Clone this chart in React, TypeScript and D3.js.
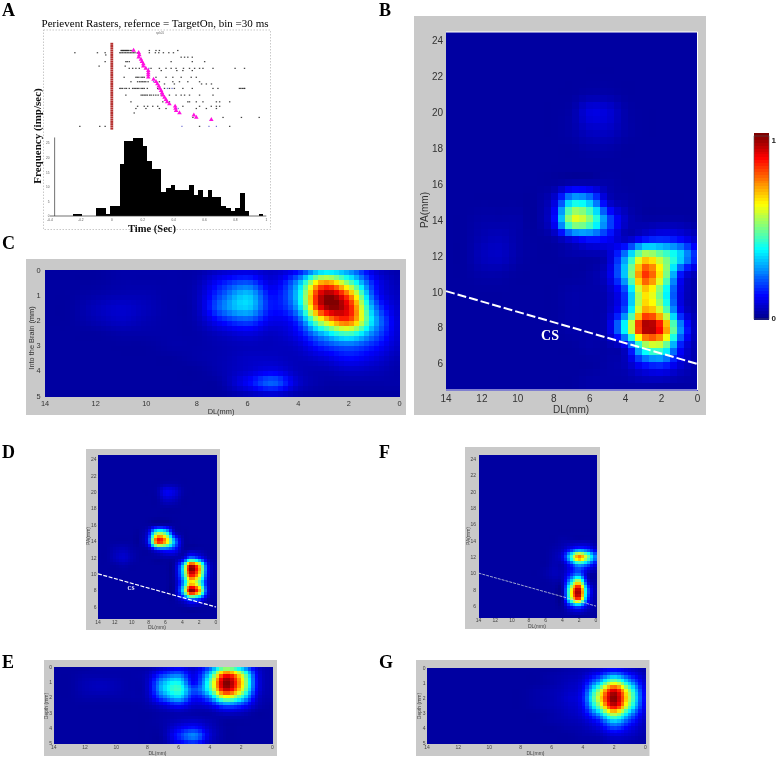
import React, { useRef, useEffect } from "react";
import * as d3 from "d3";

// recording sites of the maps
const dlSites = [14, 13, 12, 11, 10, 9, 8, 7, 6, 5, 4, 3, 2, 1, 0];
const paSites = [25, 24, 23, 22, 21, 20, 19, 18, 17, 16, 15, 14, 13, 12, 11, 10, 9, 8, 7, 6, 5, 4];
const depthSites = [0, 0.5, 1, 1.5, 2, 2.5, 3, 3.5, 4, 4.5, 5];

const dlTicks = [14, 12, 10, 8, 6, 4, 2, 0];
const paTicks = [24, 22, 20, 18, 16, 14, 12, 10, 8, 6];
const depthTicks = [0, 1, 2, 3, 4, 5];

// normalised rate in percent, one row per PA / depth site, one column per DL site
const mapB = [
  [2, 2, 2, 2, 2, 2, 2, 2, 2, 2, 2, 2, 2, 2, 2],
  [2, 2, 2, 2, 2, 2, 2, 2, 2, 2, 2, 2, 2, 2, 2],
  [2, 2, 2, 2, 2, 2, 2, 2, 2, 2, 2, 2, 2, 2, 2],
  [2, 2, 2, 2, 2, 2, 2, 2, 2, 2, 2, 2, 2, 2, 2],
  [2, 2, 2, 2, 2, 2, 2, 2, 3, 3, 2, 2, 2, 2, 2],
  [2, 2, 2, 2, 2, 2, 2, 3, 9, 8, 3, 2, 2, 2, 2],
  [2, 2, 2, 2, 2, 2, 2, 3, 6, 6, 3, 2, 2, 2, 2],
  [2, 2, 2, 2, 2, 2, 2, 2, 3, 3, 2, 2, 2, 2, 2],
  [2, 2, 2, 2, 2, 2, 2, 2, 2, 2, 2, 2, 2, 2, 2],
  [2, 2, 2, 2, 2, 2, 2, 4, 4, 3, 2, 2, 2, 2, 2],
  [2, 2, 2, 2, 2, 2, 8, 35, 30, 7, 3, 2, 2, 2, 2],
  [2, 2, 3, 3, 3, 2, 12, 57, 50, 22, 6, 3, 3, 3, 2],
  [2, 2, 4, 5, 3, 2, 3, 10, 15, 12, 5, 12, 15, 12, 6],
  [2, 2, 5, 6, 3, 2, 2, 3, 3, 6, 28, 60, 50, 35, 15],
  [2, 2, 3, 3, 2, 2, 2, 2, 3, 8, 35, 82, 60, 15, 4],
  [2, 2, 2, 2, 2, 2, 2, 3, 3, 5, 20, 65, 45, 10, 3],
  [2, 2, 2, 2, 2, 2, 2, 3, 3, 5, 22, 70, 55, 12, 3],
  [2, 2, 2, 2, 2, 2, 2, 3, 3, 7, 42, 96, 84, 28, 3],
  [2, 2, 2, 2, 2, 2, 2, 2, 3, 3, 10, 48, 52, 15, 3],
  [2, 2, 2, 2, 2, 2, 2, 2, 2, 3, 5, 15, 18, 8, 3],
  [2, 2, 2, 2, 2, 2, 2, 2, 3, 3, 3, 4, 4, 3, 3],
  [2, 2, 2, 2, 2, 2, 2, 2, 2, 2, 2, 2, 2, 2, 2],
];

const mapC = [
  [2, 2, 2, 3, 3, 3, 3, 6, 8, 6, 12, 30, 25, 8, 3],
  [2, 2, 2, 3, 3, 3, 4, 14, 20, 9, 28, 72, 48, 14, 4],
  [2, 2, 3, 4, 4, 3, 5, 20, 32, 13, 34, 96, 76, 18, 5],
  [2, 2, 5, 7, 5, 3, 5, 24, 33, 14, 30, 94, 88, 26, 6],
  [2, 2, 4, 6, 4, 3, 4, 14, 20, 10, 18, 62, 80, 32, 7],
  [2, 2, 2, 3, 3, 3, 3, 6, 9, 6, 12, 32, 45, 24, 7],
  [2, 2, 2, 2, 2, 3, 3, 4, 5, 5, 7, 17, 22, 15, 6],
  [2, 2, 2, 2, 2, 2, 3, 4, 6, 6, 5, 8, 13, 9, 4],
  [2, 2, 2, 2, 2, 2, 2, 4, 7, 10, 5, 4, 6, 5, 3],
  [2, 2, 2, 2, 2, 2, 2, 3, 12, 22, 7, 3, 3, 3, 3],
  [2, 2, 2, 2, 2, 2, 2, 2, 4, 6, 3, 2, 2, 2, 2],
];

const mapD = [
  [2, 2, 2, 2, 2, 2, 2, 2, 2, 2, 2, 2, 2, 2, 2],
  [2, 2, 2, 2, 2, 2, 2, 2, 2, 2, 2, 2, 2, 2, 2],
  [2, 2, 2, 2, 2, 2, 2, 2, 2, 2, 2, 2, 2, 2, 2],
  [2, 2, 2, 2, 2, 2, 2, 2, 2, 2, 2, 2, 2, 2, 2],
  [2, 2, 2, 2, 2, 2, 2, 2, 3, 3, 2, 2, 2, 2, 2],
  [2, 2, 2, 2, 2, 2, 2, 3, 11, 9, 3, 2, 2, 2, 2],
  [2, 2, 2, 2, 2, 2, 2, 2, 6, 5, 2, 2, 2, 2, 2],
  [2, 2, 2, 2, 2, 2, 2, 2, 2, 2, 2, 2, 2, 2, 2],
  [2, 2, 2, 2, 2, 2, 2, 2, 2, 2, 2, 2, 2, 2, 2],
  [2, 2, 2, 2, 2, 2, 2, 3, 3, 2, 2, 2, 2, 2, 2],
  [2, 2, 2, 2, 2, 2, 10, 52, 45, 8, 2, 2, 2, 2, 2],
  [2, 2, 2, 2, 2, 2, 15, 84, 72, 30, 4, 2, 2, 2, 2],
  [2, 2, 4, 5, 3, 2, 3, 14, 18, 14, 3, 3, 3, 2, 2],
  [2, 2, 5, 7, 4, 2, 2, 2, 3, 3, 6, 24, 16, 4, 2],
  [2, 2, 2, 3, 2, 2, 2, 2, 2, 3, 33, 96, 72, 14, 2],
  [2, 2, 2, 2, 2, 2, 2, 2, 2, 3, 32, 88, 68, 13, 2],
  [2, 2, 2, 2, 2, 2, 2, 2, 2, 2, 24, 64, 48, 9, 2],
  [2, 2, 2, 2, 2, 2, 2, 2, 2, 2, 34, 98, 74, 12, 2],
  [2, 2, 2, 2, 2, 2, 2, 2, 2, 2, 9, 24, 18, 4, 2],
  [2, 2, 2, 2, 2, 2, 2, 2, 2, 2, 2, 3, 3, 2, 2],
  [2, 2, 2, 2, 2, 2, 2, 2, 2, 2, 2, 2, 2, 2, 2],
  [2, 2, 2, 2, 2, 2, 2, 2, 2, 2, 2, 2, 2, 2, 2],
];

const mapE = [
  [2, 2, 2, 3, 3, 3, 3, 6, 10, 7, 20, 45, 30, 8, 3],
  [2, 2, 3, 3, 3, 3, 5, 18, 24, 10, 35, 85, 60, 12, 3],
  [2, 2, 4, 5, 4, 3, 6, 30, 38, 12, 45, 100, 68, 13, 3],
  [2, 2, 4, 5, 4, 3, 6, 32, 43, 20, 42, 92, 62, 12, 3],
  [2, 2, 3, 3, 3, 3, 5, 22, 33, 13, 25, 58, 40, 8, 3],
  [2, 2, 2, 2, 2, 2, 3, 8, 14, 7, 10, 22, 17, 5, 2],
  [2, 2, 2, 2, 2, 2, 2, 3, 4, 3, 3, 6, 5, 2, 2],
  [2, 2, 2, 2, 2, 2, 2, 3, 5, 6, 4, 2, 2, 2, 2],
  [2, 2, 2, 2, 2, 2, 2, 3, 10, 14, 6, 2, 2, 2, 2],
  [2, 2, 2, 2, 2, 2, 2, 3, 16, 26, 8, 2, 2, 2, 2],
  [2, 2, 2, 2, 2, 2, 2, 2, 10, 15, 5, 2, 2, 2, 2],
];

const mapF = [
  [2, 2, 2, 2, 2, 2, 2, 2, 2, 2, 2, 2, 2, 2, 2],
  [2, 2, 2, 2, 2, 2, 2, 2, 2, 2, 2, 2, 2, 2, 2],
  [2, 2, 2, 2, 2, 2, 2, 2, 2, 2, 2, 2, 2, 2, 2],
  [2, 2, 2, 2, 2, 2, 2, 2, 2, 2, 2, 2, 2, 2, 2],
  [2, 2, 2, 2, 2, 2, 2, 2, 2, 2, 2, 2, 2, 2, 2],
  [2, 2, 2, 2, 2, 2, 2, 2, 2, 2, 2, 2, 2, 2, 2],
  [2, 2, 2, 2, 2, 2, 2, 2, 2, 2, 2, 2, 2, 2, 2],
  [2, 2, 2, 2, 2, 2, 2, 2, 2, 2, 2, 2, 2, 2, 2],
  [2, 2, 2, 2, 2, 2, 2, 2, 2, 2, 2, 2, 2, 2, 2],
  [2, 2, 2, 2, 2, 2, 2, 2, 2, 2, 2, 2, 2, 2, 2],
  [2, 2, 2, 2, 2, 2, 2, 2, 2, 2, 2, 2, 2, 2, 2],
  [2, 2, 2, 2, 2, 2, 2, 2, 2, 2, 3, 3, 3, 3, 2],
  [2, 2, 2, 2, 2, 2, 2, 2, 2, 3, 5, 12, 18, 15, 6],
  [2, 2, 2, 2, 2, 2, 2, 2, 2, 4, 10, 42, 76, 52, 22],
  [2, 2, 2, 2, 2, 2, 2, 2, 2, 4, 4, 15, 28, 20, 8],
  [2, 2, 2, 2, 2, 2, 2, 2, 3, 5, 5, 15, 22, 5, 2],
  [2, 2, 2, 2, 2, 2, 2, 2, 2, 3, 5, 35, 60, 10, 2],
  [2, 2, 2, 2, 2, 2, 2, 2, 2, 2, 4, 60, 96, 25, 2],
  [2, 2, 2, 2, 2, 2, 2, 2, 2, 2, 3, 55, 86, 20, 2],
  [2, 2, 2, 2, 2, 2, 2, 2, 2, 2, 2, 15, 22, 8, 2],
  [2, 2, 2, 2, 2, 2, 2, 2, 2, 2, 2, 3, 3, 2, 2],
  [2, 2, 2, 2, 2, 2, 2, 2, 2, 2, 2, 2, 2, 2, 2],
];

const mapG = [
  [2, 2, 2, 2, 2, 2, 2, 2, 2, 3, 4, 6, 10, 6, 3],
  [2, 2, 2, 2, 2, 2, 2, 2, 3, 4, 6, 16, 30, 16, 5],
  [2, 2, 2, 2, 2, 2, 2, 2, 3, 5, 9, 32, 60, 32, 7],
  [2, 2, 2, 2, 2, 2, 2, 3, 4, 6, 12, 52, 92, 50, 9],
  [2, 2, 2, 2, 2, 2, 2, 3, 4, 7, 14, 60, 100, 55, 10],
  [2, 2, 2, 2, 2, 2, 2, 3, 4, 6, 12, 50, 92, 48, 9],
  [2, 2, 2, 2, 2, 2, 2, 2, 3, 5, 9, 30, 60, 30, 7],
  [2, 2, 2, 2, 2, 2, 2, 2, 3, 4, 6, 15, 34, 18, 5],
  [2, 2, 2, 2, 2, 2, 2, 2, 2, 3, 4, 8, 18, 10, 4],
  [2, 2, 2, 2, 2, 2, 2, 2, 2, 2, 3, 4, 8, 6, 3],
  [2, 2, 2, 2, 2, 2, 2, 2, 2, 2, 2, 2, 4, 3, 2],
];

// jet colour stops
const jetStops = [0, 0.125, 0.375, 0.625, 0.875, 1];
const jetColors = ["#00008f", "#0000ff", "#00ffff", "#ffff00", "#ff0000", "#800000"];

// central sulcus end points, [DL, PA]
const csLine = [[14, 10.05], [0, 6]];

// histogram of panel A, imp/sec for each 30 ms bin starting at -0.4 s
const binWidth = 0.03;
const histCounts = [
  0, 0, 0, 0, 0, 0.7, 0.7, 0, 0, 0, 2.6, 2.6, 0.7, 3.4, 3.4, 18, 25.8, 25.8, 26.8, 26.8, 24.2, 18.8, 16.2, 16.2,
  8.2, 9.8, 10.8, 9, 9, 9, 10.8, 7.2, 9, 6.5, 9, 6.4, 6.4, 3.5, 2.8, 1.8, 2.7, 8, 1.8, 0, 0, 0.8, 0,
];
const histXTicks = [-0.4, -0.2, 0, 0.2, 0.4, 0.6, 0.8, 1];
const histYTicks = [0, 5, 10, 15, 20, 25];

// raster of panel A: trial number and spike times in seconds
const spikeTrials = [
  [3, [0.06, 0.065, 0.07, 0.075, 0.08, 0.085, 0.09, 0.095, 0.1, 0.105, 0.11, 0.12, 0.13, 0.243, 0.286, 0.308, 0.427]],
  [4, [-0.239, -0.093, -0.043, 0.052, 0.06, 0.07, 0.08, 0.09, 0.1, 0.11, 0.12, 0.13, 0.14, 0.15, 0.165, 0.178, 0.243, 0.282, 0.304, 0.334, 0.369, 0.399]],
  [5, [-0.039]],
  [6, [0.449, 0.471, 0.492, 0.521]],
  [8, [-0.043, 0.091, 0.1, 0.113, 0.384, 0.521, 0.601]],
  [10, [-0.082, 0.087]],
  [11, [0.113, 0.135, 0.156, 0.178, 0.254, 0.308, 0.351, 0.384, 0.416, 0.464, 0.503, 0.536, 0.568, 0.59, 0.655, 0.798, 0.859]],
  [12, [0.32, 0.421, 0.46, 0.521]],
  [15, [0.08, 0.156, 0.165, 0.175, 0.19, 0.2, 0.21, 0.286, 0.351, 0.395, 0.449, 0.514, 0.547]],
  [17, [0.124, 0.167, 0.18, 0.19, 0.2, 0.21, 0.22, 0.235, 0.308, 0.395, 0.438, 0.492, 0.568]],
  [18, [0.341, 0.405, 0.581, 0.612, 0.645]],
  [20, [0.052, 0.06, 0.07, 0.085, 0.095, 0.113, 0.135, 0.145, 0.155, 0.165, 0.175, 0.19, 0.2, 0.21, 0.23, 0.297, 0.341, 0.373, 0.405, 0.46, 0.521, 0.655, 0.687, 0.826, 0.835, 0.845, 0.855, 0.86]],
  [23, [0.091, 0.19, 0.2, 0.21, 0.22, 0.23, 0.245, 0.255, 0.27, 0.285, 0.3, 0.32, 0.373, 0.416, 0.449, 0.471, 0.503, 0.568, 0.655]],
  [26, [0.124, 0.33, 0.373, 0.492, 0.503, 0.547, 0.59, 0.677, 0.698, 0.763]],
  [28, [0.167, 0.21, 0.232, 0.265, 0.297, 0.46, 0.568, 0.644, 0.677, 0.698]],
  [29, [0.156, 0.221, 0.308, 0.351, 0.416, 0.547, 0.612, 0.677]],
  [31, [0.145]],
  [33, [0.525, 0.72, 0.839, 0.954]],
  [37, [-0.207, -0.078, -0.043, 0.568, 0.763]],
];
const blueMarks = [[11, 0.24], [17, 0.27], [20, 0.36], [20, 0.39], [26, 0.36], [29, 0.43], [37, 0.454], [37, 0.629], [37, 0.677]];
const saccadeTrials = [3, 4, 5, 6, 7, 8, 9, 10, 11, 12, 13, 14, 15, 16, 17, 18, 19, 20, 21, 22, 23, 24, 25, 26, 27, 28, 29, 30, 31, 32, 33, 34];
const saccadeTimes = [0.141, 0.174, 0.178, 0.174, 0.189, 0.195, 0.204, 0.204, 0.22, 0.236, 0.236, 0.236, 0.236, 0.27, 0.286, 0.295, 0.304, 0.31, 0.319, 0.325, 0.33, 0.341, 0.35, 0.358, 0.373, 0.41, 0.412, 0.416, 0.438, 0.531, 0.547, 0.644];
const rasterTrials = d3.range(0, 39);

const serif = "'Liberation Serif', serif";
const sans = "'Liberation Sans', Arial, sans-serif";

const panels = [
  { map: mapB, rowSites: paSites, yTicks: paTicks, frame: [414, 16, 706, 415], plot: [446, 32, 697.5, 390], yDomain: [24.46, 4.55], nx: 36, ny: 51, yLabel: "PA(mm)", font: 10, color: "#333", xl: [571, 413], yl: [428, 210], tickY: 401.5, tickX: 443, cs: [550, 340, 14], csWidth: 2, csDash: "9,3", white: true },
  { map: mapC, rowSites: depthSites, yTicks: depthTicks, frame: [26, 259, 406, 415], plot: [45, 270, 399.5, 396.5], yDomain: [0, 5.02], nx: 70, ny: 25, yLabel: "Into the Brain (mm)", font: 7.4, color: "#333", xl: [221, 413.5], yl: [34, 338], tickY: 405.5, tickX: 40.5, white: false },
  { map: mapD, rowSites: paSites, yTicks: paTicks, frame: [86, 449, 220, 630], plot: [98, 454.5, 216, 618.5], yDomain: [24.6, 4.6], nx: 40, ny: 55, yLabel: "PA(mm)", font: 5, color: "#444", xl: [157, 628.5], yl: [90, 536], tickY: 623.5, tickX: 96.5, cs: [131, 590, 5.5], csWidth: 1.2, csDash: "4,1.5", white: false },
  { map: mapE, rowSites: depthSites, yTicks: depthTicks, frame: [44, 660, 277, 756], plot: [53.7, 667.3, 272.3, 743.3], yDomain: [0, 5], nx: 62, ny: 22, yLabel: "Depth (mm)", font: 5, color: "#444", xl: [157.5, 754.5], yl: [47.5, 706], tickY: 748.5, tickX: 52, white: false },
  { map: mapF, rowSites: paSites, yTicks: paTicks, frame: [465, 447, 600, 629], plot: [478.5, 454.5, 596, 617.5], yDomain: [24.6, 4.6], nx: 40, ny: 55, yLabel: "PA(mm)", font: 5, color: "#444", xl: [537, 628], yl: [470, 536], tickY: 622, tickX: 476, csWidth: 0.8, csDash: "3,1", white: false, csFade: true },
  { map: mapG, rowSites: depthSites, yTicks: depthTicks, frame: [416, 660, 649.5, 756], plot: [427, 668.3, 645.3, 743.3], yDomain: [0, 5], nx: 62, ny: 22, yLabel: "Depth (mm)", font: 5, color: "#444", xl: [535.5, 754.5], yl: [420.5, 706], tickY: 748.5, tickX: 425.5, white: false },
];

const letters = [["A", 2, 16], ["B", 379, 16], ["C", 2, 249], ["D", 2, 458], ["E", 2, 668], ["F", 379, 458], ["G", 379, 668]];

function catmull(a, b, c, d, t) {
  return b + 0.5 * t * (c - a + t * (2 * a - 5 * b + 4 * c - d + t * (3 * (b - c) + d - a)));
}

// bicubic resampling of the site grid to the display cells, as the original interp2 maps
function sampleMap(map, u, v) {
  const nr = map.length, nc = map[0].length;
  const i = Math.min(Math.floor(v), nr - 2), j = Math.min(Math.floor(u), nc - 2);
  const row = (r) => {
    const m = map[Math.max(0, Math.min(nr - 1, r))];
    const at = (c) => m[Math.max(0, Math.min(nc - 1, c))];
    return catmull(at(j - 1), at(j), at(j + 1), at(j + 2), u - j);
  };
  return catmull(row(i - 1), row(i), row(i + 1), row(i + 2), v - i) / 100;
}

export default function App() {
  const svgRef = useRef(null);

  useEffect(() => {
    const svg = d3.select(svgRef.current);
    svg.selectAll("*").remove();

    const jet = d3.scaleLinear().domain(jetStops).range(jetColors).clamp(true);

    letters.forEach(([t, x, y]) => {
      svg.append("text").attr("x", x).attr("y", y).attr("font-family", serif).attr("font-weight", "bold").attr("font-size", 18).attr("fill", "#000").text(t);
    });

    // heat maps
    panels.forEach((p) => {
      const [px0, py0, px1, py1] = p.plot;
      const g = svg.append("g");
      g.append("rect").attr("x", p.frame[0]).attr("y", p.frame[1]).attr("width", p.frame[2] - p.frame[0]).attr("height", p.frame[3] - p.frame[1]).attr("fill", "#c9c9c9");

      const x = d3.scaleLinear().domain([14, 0]).range([px0, px1]);
      const y = d3.scaleLinear().domain(p.yDomain).range([py0, py1]);
      const colIndex = d3.scaleLinear().domain([dlSites[0], dlSites[dlSites.length - 1]]).range([0, dlSites.length - 1]);
      const rowIndex = d3.scaleLinear().domain([p.rowSites[0], p.rowSites[p.rowSites.length - 1]]).range([0, p.rowSites.length - 1]);
      const bandX = d3.scaleBand().domain(d3.range(p.nx)).range([px0, px1]);
      const bandY = d3.scaleBand().domain(d3.range(p.ny)).range([py0, py1]);

      const cells = d3.cross(d3.range(p.nx), d3.range(p.ny));
      g.append("g").attr("shape-rendering", "crispEdges").selectAll("rect").data(cells).enter().append("rect")
        .attr("x", (d) => bandX(d[0]))
        .attr("y", (d) => bandY(d[1]))
        .attr("width", bandX.bandwidth() + 0.6)
        .attr("height", bandY.bandwidth() + 0.6)
        .attr("fill", (d) => {
          const cx = bandX(d[0]) + bandX.bandwidth() / 2;
          const cy = bandY(d[1]) + bandY.bandwidth() / 2;
          return jet(sampleMap(p.map, colIndex(x.invert(cx)), rowIndex(y.invert(cy))));
        });

      if (p.white) {
        g.append("path").attr("d", `M${px0},${py0}H${px1}V${py1}H${px0}`).attr("fill", "none").attr("stroke", "#fff").attr("stroke-width", 1);
      }

      const label = (sel) => sel.attr("font-family", sans).attr("font-size", p.font).attr("fill", p.color);
      dlTicks.forEach((t) => {
        g.append("text").call(label).attr("x", x(t)).attr("y", p.tickY).attr("text-anchor", "middle").text(t);
      });
      p.yTicks.forEach((t) => {
        g.append("text").call(label).attr("x", p.tickX).attr("y", y(t)).attr("dy", "0.35em").attr("text-anchor", "end").text(t);
      });
      g.append("text").call(label).attr("x", p.xl[0]).attr("y", p.xl[1]).attr("text-anchor", "middle").text("DL(mm)");
      g.append("text").call(label).attr("text-anchor", "middle").attr("transform", `translate(${p.yl[0]},${p.yl[1]}) rotate(-90)`).text(p.yLabel);

      if (p.csDash) {
        const line = d3.line().x((d) => x(d[0])).y((d) => y(d[1]));
        g.append("path").attr("d", line(csLine)).attr("fill", "none").attr("stroke", p.csFade ? "#c8d0e0" : "#fff").attr("stroke-width", p.csWidth).attr("stroke-dasharray", p.csDash);
      }
      if (p.cs) {
        g.append("text").attr("x", p.cs[0]).attr("y", p.cs[1]).attr("text-anchor", "middle").attr("font-family", serif).attr("font-weight", "bold").attr("font-size", p.cs[2]).attr("fill", "#fff").text("CS");
      }
    });

    // colour bar
    const barY = d3.scaleLinear().domain([0, 1]).range([319, 136]);
    const levels = d3.range(0, 64).map((i) => i / 63);
    const bar = svg.append("g");
    bar.append("g").attr("shape-rendering", "crispEdges").selectAll("rect").data(levels).enter().append("rect")
      .attr("x", 754).attr("width", 15).attr("y", (d) => barY(d) - 183 / 64).attr("height", 183 / 64 + 1).attr("fill", (d) => jet(d));
    bar.append("rect").attr("x", 754).attr("y", 136).attr("width", 15).attr("height", 183).attr("fill", "none").attr("stroke", "#555").attr("stroke-width", 0.6);
    [[1, 143], [0, 321]].forEach(([v, yy]) => {
      bar.append("text").attr("x", 771.5).attr("y", yy).attr("font-family", sans).attr("font-weight", "bold").attr("font-size", 8).attr("fill", "#222").text(v);
    });

    // panel A
    const a = svg.append("g");
    a.append("rect").attr("x", 43.5).attr("y", 30).attr("width", 227).attr("height", 199.5).attr("fill", "none").attr("stroke", "#bbb").attr("stroke-width", 0.8).attr("stroke-dasharray", "1.5,1.5");
    a.append("text").attr("x", 155).attr("y", 26.5).attr("text-anchor", "middle").attr("font-family", serif).attr("font-size", 11).attr("textLength", 227).attr("fill", "#000").text("Perievent Rasters, refernce = TargetOn, bin =30 ms");
    a.append("text").attr("x", 160).attr("y", 34).attr("text-anchor", "middle").attr("font-family", sans).attr("font-size", 3).attr("fill", "#666").text("spk01");
    a.append("text").attr("text-anchor", "middle").attr("transform", "translate(41,136) rotate(-90)").attr("font-family", serif).attr("font-weight", "bold").attr("font-size", 11).attr("fill", "#111").text("Frequency (imp/sec)");
    a.append("text").attr("x", 152).attr("y", 232).attr("text-anchor", "middle").attr("font-family", serif).attr("font-weight", "bold").attr("font-size", 10.5).attr("fill", "#111").text("Time (Sec)");

    const tx = d3.scaleLinear().domain([-0.4, 1]).range([50, 266.3]);
    const trialY = d3.scaleLinear().domain([0, 38]).range([43.8, 128.6]);
    const hy = d3.scaleLinear().domain([0, 25]).range([216, 143.3]);

    a.append("g").selectAll("rect").data(rasterTrials).enter().append("rect")
      .attr("x", tx(0) - 1.4).attr("width", 2.8).attr("y", (d) => trialY(d) - 1).attr("height", 2).attr("fill", "#b5302f");

    spikeTrials.forEach(([trial, times]) => {
      a.append("g").selectAll("rect").data(times).enter().append("rect")
        .attr("x", (d) => tx(d) - 0.7).attr("y", trialY(trial) - 0.6).attr("width", 1.4).attr("height", 1.2).attr("fill", "#222").attr("opacity", 0.85);
    });
    a.append("g").selectAll("rect").data(blueMarks).enter().append("rect")
      .attr("x", (d) => tx(d[1]) - 0.6).attr("y", (d) => trialY(d[0]) - 0.6).attr("width", 1.2).attr("height", 1.2).attr("fill", "#4a4ac8").attr("opacity", 0.8);

    const tri = d3.symbol().type(d3.symbolTriangle).size(9);
    a.append("g").selectAll("path").data(saccadeTrials).enter().append("path")
      .attr("d", tri).attr("fill", "#ff10e0")
      .attr("transform", (d, i) => `translate(${tx(saccadeTimes[i])},${trialY(d)})`);

    a.append("g").attr("shape-rendering", "crispEdges").selectAll("rect").data(histCounts).enter().append("rect")
      .attr("x", (d, i) => tx(-0.4 + i * binWidth))
      .attr("width", tx(binWidth) - tx(0))
      .attr("y", (d) => hy(d))
      .attr("height", (d) => hy(0) - hy(d))
      .attr("fill", "#000");
    a.append("path").attr("d", `M${tx(-0.4)},${hy(0)}H${tx(1)}M${tx(-0.37)},${hy(0)}V${hy(27)}`).attr("fill", "none").attr("stroke", "#333").attr("stroke-width", 0.7);
    histXTicks.forEach((t) => {
      a.append("text").attr("x", tx(t)).attr("y", 221).attr("text-anchor", "middle").attr("font-family", sans).attr("font-size", 3.2).attr("fill", "#555").text(t);
    });
    histYTicks.forEach((t) => {
      a.append("text").attr("x", 49.5).attr("y", hy(t)).attr("dy", "0.35em").attr("text-anchor", "end").attr("font-family", sans).attr("font-size", 3.2).attr("fill", "#555").text(t);
    });
  }, []);

  return (
    <svg ref={svgRef} width={778} height={757} style={{ position: "absolute", left: 0, top: 0, background: "#fff", filter: "blur(0.35px)" }} />
  );
}
